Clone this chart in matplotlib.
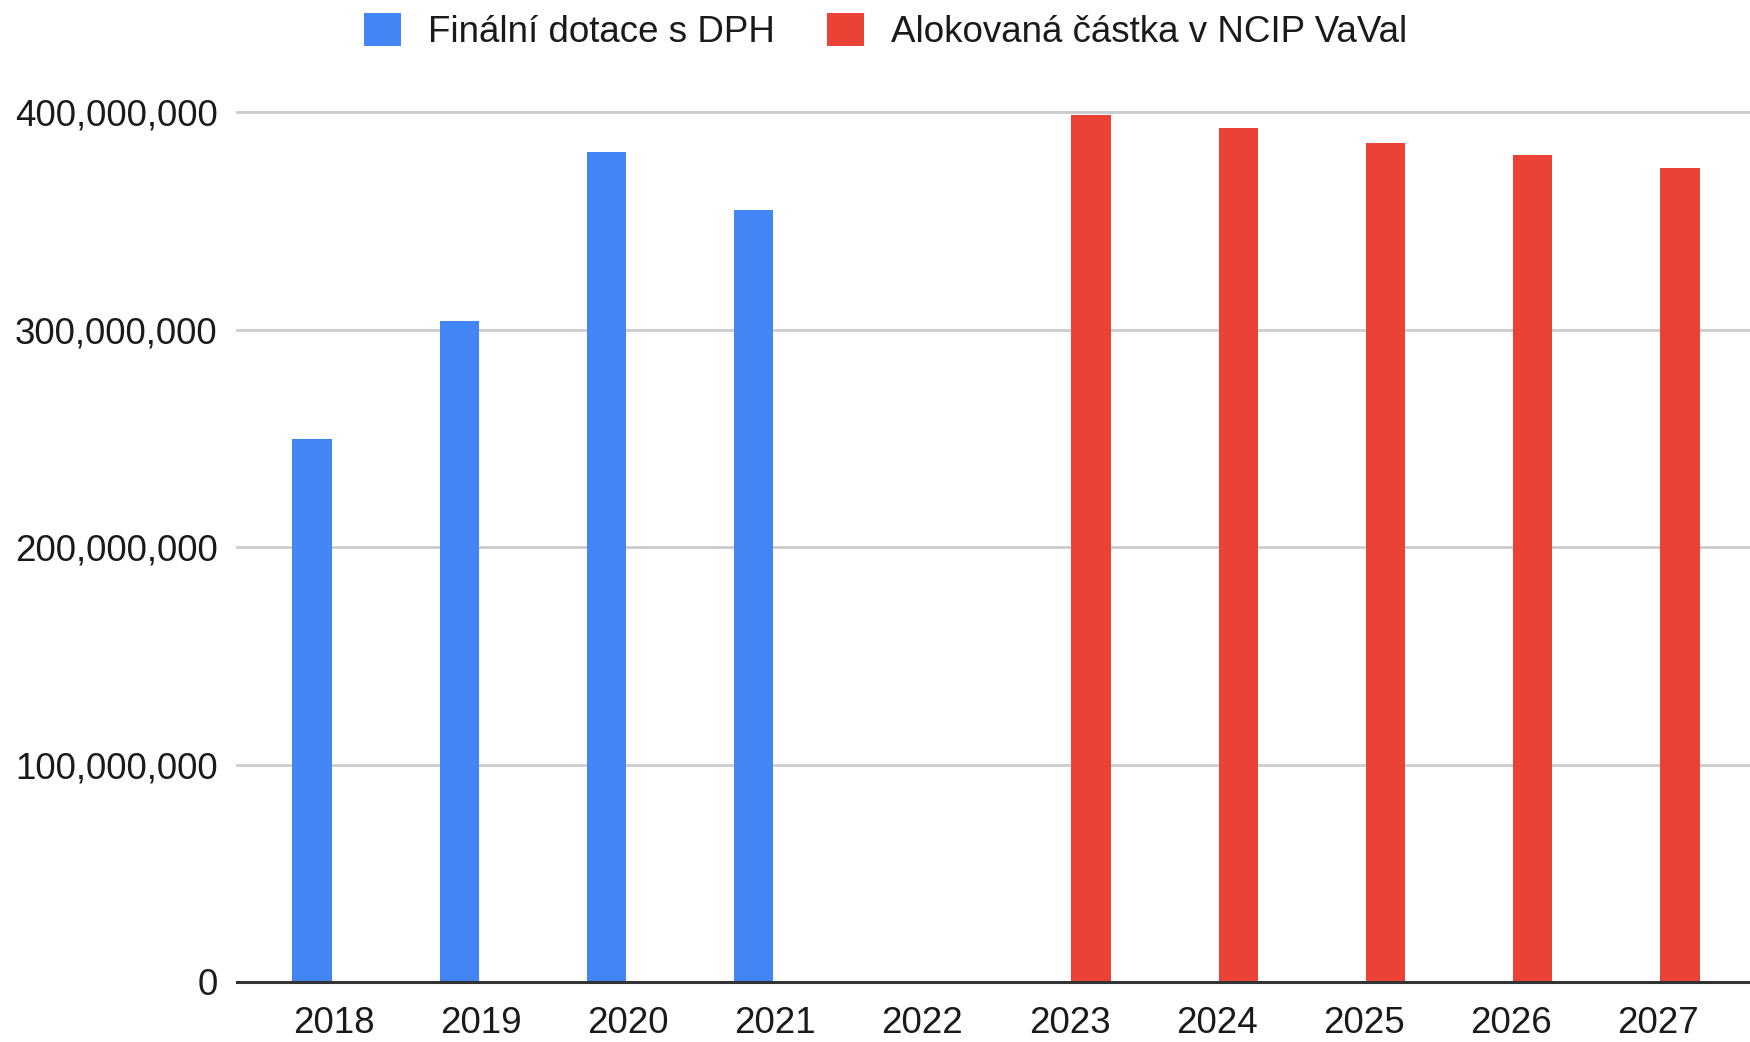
import matplotlib
matplotlib.use("Agg")
import matplotlib.pyplot as plt
import numpy as np
from matplotlib.patches import Patch
from matplotlib.ticker import FuncFormatter

years = ["2018", "2019", "2020", "2021", "2022", "2023", "2024", "2025", "2026", "2027"]
final_grant = [250e6, 304e6, 382e6, 355e6, 0, 0, 0, 0, 0, 0]
allocated = [0, 0, 0, 0, 0, 399e6, 393e6, 386e6, 380.5e6, 374.5e6]
series_names = ["Finální dotace s DPH", "Alokovaná částka v NCIP VaVal"]
colors = ["#4285F4", "#EA4335"]

plt.rcParams["font.family"] = ["Liberation Sans", "DejaVu Sans"]

fig = plt.figure(figsize=(17.5, 10.42), dpi=100)
ax = fig.add_axes([0.1354, 0.0576, 0.8646, 0.8345])

x = np.arange(len(years))
width = 0.27
ax.bar(x - 0.148, final_grant, width, color=colors[0], zorder=3)
ax.bar(x + 0.148, allocated, width, color=colors[1], zorder=3)

ax.set_xlim(-0.66, 9.626)
ax.set_ylim(0, 400e6)
ax.set_yticks([0, 100e6, 200e6, 300e6, 400e6])
ax.yaxis.set_major_formatter(FuncFormatter(lambda v, p: f"{int(v):,}"))
ax.set_xticks(x)
ax.set_xticklabels(years)

ax.grid(axis="y", color="#cccccc", linewidth=2, zorder=0)
for line in ax.get_ygridlines():
    line.set_clip_on(False)
for side in ["top", "right", "left"]:
    ax.spines[side].set_visible(False)
ax.spines["bottom"].set_color("#333333")
ax.spines["bottom"].set_linewidth(2.2)
ax.spines["bottom"].set_zorder(4)

ax.tick_params(axis="y", length=0, pad=14, labelsize=26.5, labelcolor="#1a1a1a")
ax.tick_params(axis="x", length=0, pad=17.5, labelsize=26.5, labelcolor="#1a1a1a")

handles = [Patch(facecolor=c, edgecolor="none") for c in colors]
fig.legend(handles, series_names, loc="center", bbox_to_anchor=(0.506, 0.9696),
           ncol=2, frameon=False, fontsize=26.5, handlelength=1.0, handleheight=1.0,
           handletextpad=0.73, columnspacing=1.43, labelcolor="#1a1a1a")

fig.savefig("out.png", dpi=100, facecolor="white")
